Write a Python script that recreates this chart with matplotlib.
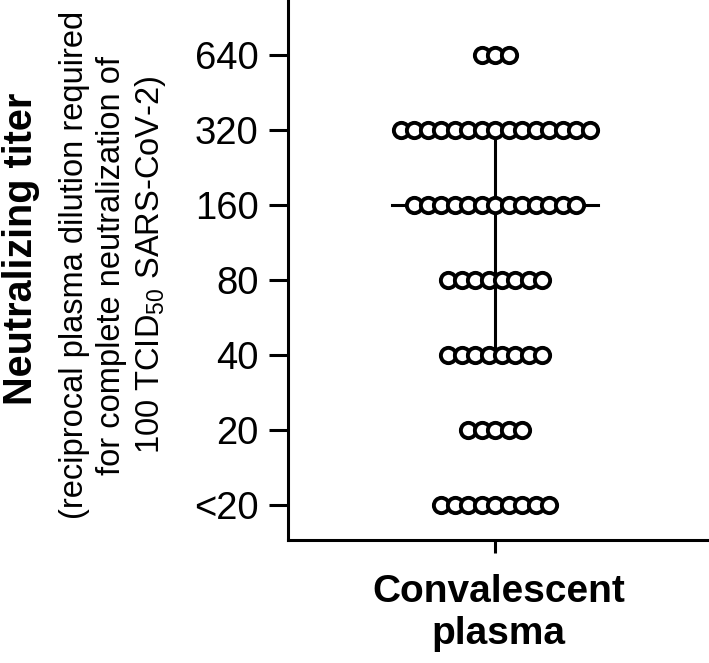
import numpy as np
import matplotlib
matplotlib.use('agg')
import matplotlib.pyplot as plt

plt.rcParams['font.family'] = ['Liberation Sans', 'DejaVu Sans']
plt.rcParams['mathtext.fontset'] = 'custom'
plt.rcParams['mathtext.rm'] = 'Liberation Sans'
plt.rcParams['mathtext.default'] = 'regular'

# titer levels (<20 plotted at 10) and number of donors at each level
titers = [10, 20, 40, 80, 160, 320, 640]
tick_labels = ['<20', '20', '40', '80', '160', '320', '640']
counts = [9, 5, 8, 8, 13, 15, 3]

median = 160
q1, q3 = 40, 320

fig = plt.figure(figsize=(7.09, 6.63), dpi=100)
ax = fig.add_axes([0.406, 0.1855, 0.594, 0.8145])

dx = 0.064
for t, n in zip(titers, counts):
    xs = (np.arange(n) - (n - 1) / 2) * dx
    ax.plot(xs, [t] * n, 'o', ms=11, mfc='white', mec='black', mew=2.8,
            zorder=3, linestyle='none')

# median and interquartile range
ax.plot([-0.49, 0.49], [median, median], color='black', lw=2.2, zorder=2)
ax.plot([0, 0], [q1, q3], color='black', lw=2.2, zorder=2)

ax.set_yscale('log', base=2)
ax.set_ylim(10 * 2 ** -0.467, 640 * 2 ** 0.733)
ax.set_xlim(-0.985, 1.015)
ax.set_yticks(titers)
ax.set_yticklabels(tick_labels)
ax.minorticks_off()
ax.set_xticks([0])
ax.set_xticklabels([''])

ax.spines['top'].set_visible(False)
ax.spines['right'].set_visible(False)
ax.spines['left'].set_linewidth(2.2)
ax.spines['bottom'].set_linewidth(2.2)
ax.tick_params(axis='y', length=14, width=2.2, labelsize=27.5, pad=7)
ax.tick_params(axis='x', length=9, width=2.2)

ax.set_xlabel('Convalescent\nplasma', fontsize=28, fontweight='bold',
              labelpad=12, linespacing=1.2)

fig.text(0.029, 0.625, 'Neutralizing titer', rotation=90, fontsize=28.5,
         fontweight='bold', ha='center', va='center')
fig.text(0.16, 0.6,
         '(reciprocal plasma dilution required\nfor complete neutralization of\n100 TCID$_{50}$ SARS-CoV-2)',
         rotation=90, fontsize=23.5, ha='center', va='center',
         linespacing=1.25, multialignment='center')

plt.savefig('out.png', dpi=100)
